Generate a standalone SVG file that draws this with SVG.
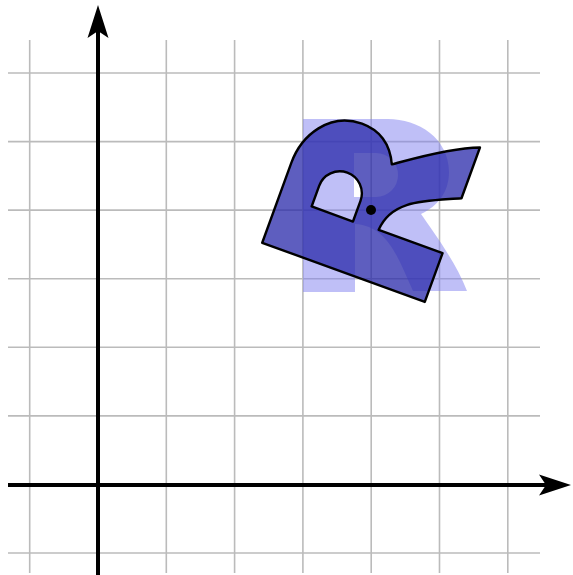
<svg xmlns="http://www.w3.org/2000/svg" xmlns:xlink="http://www.w3.org/1999/xlink" width="573" height="575" viewBox="0 0 573 575">
  <style>
    .grid line { stroke: #bbbbbb; stroke-width: 1.6; }
    .axis { stroke: #000; stroke-width: 4; fill: none; }
    .head { fill: #000; stroke: none; }
    .orig { fill: #8080f0; fill-opacity: 0.5; fill-rule: evenodd; stroke: none; }
    .rot { fill: #2828aa; fill-opacity: 0.75; fill-rule: evenodd; stroke: #000; stroke-width: 2.4; stroke-linejoin: round; }
  </style>
  <defs>
    <path id="rshape" d="M303,119 L388,119 C418,119 449,138 449,172 C449,192 438,206 421,214 C432,230 456,262 467,291 L413,291 C398,258 388,226 355,224 L355,292 L303,292 Z M354,153 L376,153 A22,22 0 0 1 376,197 L354,197 Z"/>
  </defs>
  <rect width="573" height="575" fill="#ffffff"/>
  <g id="grid" class="grid">
    <line x1="29.7" y1="40" x2="29.7" y2="573"/>
    <line x1="166.3" y1="40" x2="166.3" y2="573"/>
    <line x1="234.6" y1="40" x2="234.6" y2="573"/>
    <line x1="302.9" y1="40" x2="302.9" y2="573"/>
    <line x1="371.2" y1="40" x2="371.2" y2="573"/>
    <line x1="439.5" y1="40" x2="439.5" y2="573"/>
    <line x1="507.8" y1="40" x2="507.8" y2="573"/>
    <line x1="8" y1="73" x2="540" y2="73"/>
    <line x1="8" y1="141.6" x2="540" y2="141.6"/>
    <line x1="8" y1="210.1" x2="540" y2="210.1"/>
    <line x1="8" y1="278.7" x2="540" y2="278.7"/>
    <line x1="8" y1="347.3" x2="540" y2="347.3"/>
    <line x1="8" y1="415.9" x2="540" y2="415.9"/>
    <line x1="8" y1="553" x2="540" y2="553"/>
  </g>
  <g id="axes">
    <line class="axis" x1="98" y1="575" x2="98" y2="30"/>
    <path class="head" d="M98,5 L108.5,38 L98,31 L87.5,38 Z"/>
    <line class="axis" x1="8" y1="485" x2="546" y2="485"/>
    <path class="head" d="M571,485 L539,495.5 L546,485 L539,474.5 Z"/>
  </g>
  <g id="original-R">
    <use xlink:href="#rshape" href="#rshape" class="orig"/>
  </g>
  <g id="rotated-R">
    <use xlink:href="#rshape" href="#rshape" class="rot" transform="rotate(-70 371 210)"/>
  </g>
  <g id="center">
    <circle cx="371" cy="210" r="5" fill="#000"/>
  </g>
</svg>
